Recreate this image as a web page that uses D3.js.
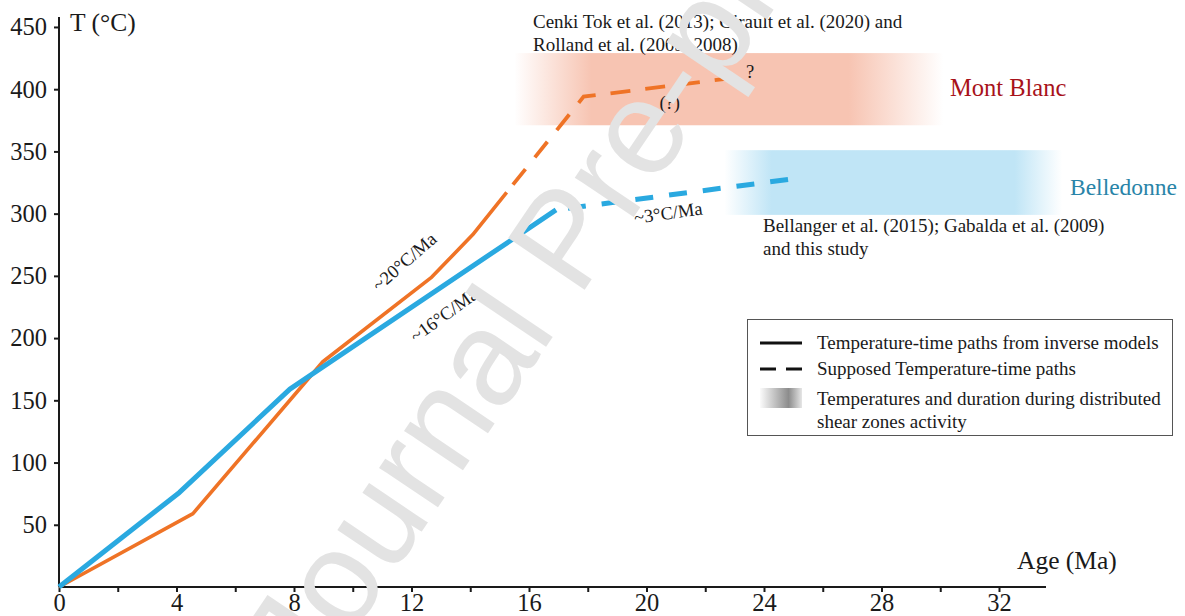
<!DOCTYPE html>
<html><head><meta charset="utf-8">
<script src="https://cdn.jsdelivr.net/npm/d3@7"></script>
<style>body{margin:0;background:#fff}svg{display:block}</style>
</head><body>
<svg id="c" width="1185" height="616"></svg>
<script>
// ---- data ----
const ageTicks = [0, 4, 8, 12, 16, 20, 24, 28, 32];
const ageMinorTicks = [2, 6, 10, 14, 18, 22, 26, 30];
const tempTicks = [50, 100, 150, 200, 250, 300, 350, 400, 450];
const belledonneSolid = [[0, 0], [4.1, 76], [7.86, 159], [16.92, 303]];
const belledonneDashed = [[16.92, 303], [25, 328]];
const montBlancSolid = [[0, 0], [4.56, 59], [8.98, 181], [12.69, 249], [14.08, 283], [15.24, 317]];
const montBlancDashed = [[15.24, 317], [17.86, 394], [23.27, 410]];
const montBlancBand = {age: [15.5, 30.1], temp: [371, 429]};
const belledonneBand = {age: [22.65, 34.15], temp: [299, 351]};
const legendItems = ["Temperature-time paths from inverse models", "Supposed Temperature-time paths", "Temperatures and duration during distributed", "shear zones activity"];

const svg = d3.select("#c");
const x = d3.scaleLinear().domain([0, 33.6]).range([59, 1046]);
const y = d3.scaleLinear().domain([0, 458]).range([587, 17]);
const serif = "'Liberation Serif', 'Times New Roman', serif";
const defs = svg.append("defs");

function hGrad(id, color, stops) {
  const g = defs.append("linearGradient").attr("id", id).attr("x1", 0).attr("x2", 1).attr("y1", 0).attr("y2", 0);
  stops.forEach(s => g.append("stop").attr("offset", s[0]).attr("stop-color", s[2] || color).attr("stop-opacity", s[1]));
}
hGrad("mbG", "#f7c4b2", [[0, 0], [0.18, 1], [0.78, 1], [1, 0]]);
hGrad("bdG", "#c0e5f6", [[0, 0], [0.14, 1], [0.86, 1], [1, 0]]);
hGrad("lgG", "#888", [[0, 1, "#fbfbfb"], [0.68, 1, "#8c8c8c"], [1, 1, "#e6e6e6"]]);

// bands
[[montBlancBand, "mbG"], [belledonneBand, "bdG"]].forEach(([b, id]) => {
  svg.append("rect").attr("x", x(b.age[0])).attr("width", x(b.age[1]) - x(b.age[0]))
    .attr("y", y(b.temp[1])).attr("height", y(b.temp[0]) - y(b.temp[1]))
    .attr("fill", `url(#${id})`);
});

// axes
const xAxis = d3.axisBottom(x).tickValues(ageTicks).tickSize(5).tickPadding(2).tickFormat(d3.format("d"));
const gx = svg.append("g").attr("transform", `translate(0,${y(0)})`).call(xAxis);
gx.select(".domain").attr("d", `M${x(0)},0H${x(33.6)}`);
const gxm = svg.append("g").attr("transform", `translate(0,${y(0)})`)
  .call(d3.axisBottom(x).tickValues(ageMinorTicks).tickSize(5).tickFormat(""));
gxm.select(".domain").remove();
const yAxis = d3.axisLeft(y).tickValues(tempTicks).tickSize(5).tickPadding(7);
const gy = svg.append("g").attr("transform", `translate(${x(0)},0)`).call(yAxis);
gy.select(".domain").attr("d", `M0,${y(0)}V${y(458)}`);
[gx, gxm, gy].forEach(g => {
  g.selectAll("path,line").attr("stroke", "#1a1a1a").attr("stroke-width", 2);
  g.selectAll("text").attr("font-family", serif).attr("font-size", 24.5).attr("fill", "#1a1a1a");
});
gx.selectAll("text").attr("dy", "0.68em");

svg.append("text").attr("x", 70).attr("y", 31).attr("font-family", serif).attr("font-size", 25.5).attr("fill", "#1a1a1a").text("T (°C)");
svg.append("text").attr("x", 1017).attr("y", 569).attr("font-family", serif).attr("font-size", 25.5).attr("fill", "#1a1a1a").text("Age (Ma)");

// lines
const line = d3.line().x(d => x(d[0])).y(d => y(d[1]));
const blue = "#2aa9e0", orange = "#ef7326";
svg.append("path").attr("d", line(montBlancSolid)).attr("fill", "none").attr("stroke", orange).attr("stroke-width", 3.6).attr("stroke-linejoin", "round");
svg.append("path").attr("d", line(montBlancDashed)).attr("fill", "none").attr("stroke", orange).attr("stroke-width", 3.8).attr("stroke-dasharray", "20 15").attr("stroke-dashoffset", -10);
svg.append("path").attr("d", line(belledonneSolid)).attr("fill", "none").attr("stroke", blue).attr("stroke-width", 5).attr("stroke-linejoin", "round");
svg.append("path").attr("d", line(belledonneDashed)).attr("fill", "none").attr("stroke", blue).attr("stroke-width", 5).attr("stroke-dasharray", "18 16").attr("stroke-dashoffset", -12);

// annotations
function txt(t, px, py, size, opts = {}) {
  const e = svg.append("text").attr("x", px).attr("y", py).attr("font-family", serif).attr("font-size", size)
    .attr("fill", opts.fill || "#1a1a1a").text(t);
  if (opts.rot) e.attr("transform", `rotate(${opts.rot},${px},${py})`);
  if (opts.anchor) e.attr("text-anchor", opts.anchor);
  return e;
}
txt("~20°C/Ma", 379, 292, 18.5, {rot: -41});
txt("~16°C/Ma", 416, 343, 18.5, {rot: -36});
txt("~3°C/Ma", 635, 224, 18.5, {rot: -8});
txt("?", 746, 78, 18.5);
txt("(?)", 680, 109, 18.5, {anchor: "end"});
txt("Cenki Tok et al. (2013); Girault et al. (2020) and", 533, 28, 19);
txt("Rolland et al. (2003, 2008)", 533, 51, 19);
txt("Bellanger et al. (2015); Gabalda et al. (2009)", 763, 232, 19);
txt("and this study", 763, 255, 19);
txt("Mont Blanc", 950, 96, 24.5, {fill: "#a8121a"});
txt("Belledonne", 1070, 195, 23.5, {fill: "#2984a8"});

// legend
svg.append("rect").attr("x", 747.5).attr("y", 319.5).attr("width", 425).attr("height", 116).attr("fill", "#fff").attr("stroke", "#555").attr("stroke-width", 1);
svg.append("line").attr("x1", 760).attr("x2", 802).attr("y1", 343).attr("y2", 343).attr("stroke", "#111").attr("stroke-width", 3);
svg.append("line").attr("x1", 760).attr("x2", 802).attr("y1", 369).attr("y2", 369).attr("stroke", "#111").attr("stroke-width", 3).attr("stroke-dasharray", "16 10");
svg.append("rect").attr("x", 760).attr("y", 388).attr("width", 42).attr("height", 20).attr("fill", "url(#lgG)");
const ly = [349, 375, 405, 428];
legendItems.forEach((t, i) => txt(t, 817, ly[i], 19));

// watermark
svg.append("text").attr("x", 0).attr("y", 0).attr("font-family", "'Liberation Sans', Arial, sans-serif")
  .attr("font-size", 134).attr("fill", "#e3e3e3")
  .attr("transform", "translate(312,694) rotate(-56)").text("Journal Pre-proof");
</script>
</body></html>
